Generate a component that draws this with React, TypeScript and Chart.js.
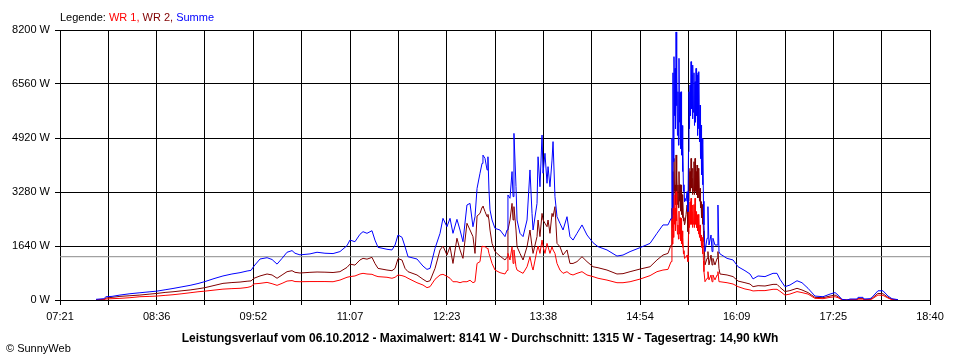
import { useEffect, useRef } from 'react';
import { Chart, registerables } from 'chart.js';

Chart.register(...registerables);

// time of each sample, minutes after midnight
const minutes = [
  469.1, 475.3, 476.9, 481.6, 487.8, 495.6, 503.4, 511.2, 516.7, 523.0,
  529.2, 536.2, 542.5, 548.7, 554.2, 561.2, 568.2, 575.2, 581.5, 587.0,
  590.1, 592.4, 597.1, 602.6, 606.5, 610.4, 614.3, 618.2, 622.1, 624.4,
  628.3, 636.1, 641.6, 647.8, 654.1, 659.5, 665.0, 667.3, 671.2, 675.1,
  677.5, 680.6, 684.5, 686.8, 689.2, 696.2, 700.1, 702.5, 704.8, 707.9,
  710.3, 712.6, 719.6, 724.3, 727.4, 729.8, 733.7, 737.6, 739.9, 743.0,
  745.4, 747.7, 750.8, 753.2, 755.5, 758.6, 761.0, 763.3, 764.9, 766.5,
  768.8, 770.4, 771.1, 772.7, 774.3, 775.0, 775.8, 776.6, 778.2, 780.5,
  784.4, 788.3, 789.9, 790.6, 792.2, 793.8, 794.6, 795.3, 796.9, 797.7,
  800.0, 802.4, 805.5, 807.8, 809.4, 810.2, 813.3, 814.1, 815.6, 817.2,
  818.0, 819.5, 821.1, 821.9, 823.4, 825.0, 825.8, 827.3, 828.9, 831.2,
  833.6, 836.7, 839.0, 841.4, 844.5, 848.4, 852.3, 857.0, 860.9, 867.9,
  875.7, 880.4, 885.9, 893.7, 901.5, 906.9, 911.6, 915.5, 917.9,
  944.4, 946.0,
  946.7, 947.5, 949.1, 949.9, 950.6, 952.2, 953.8, 954.5, 955.3, 956.1,
  961.6, 966.3, 970.2, 975.6, 979.5, 981.9, 985.8, 991.2, 997.5, 1000.6,
  1002.9, 1006.8, 1010.7, 1016.2, 1020.1, 1024.8, 1030.2, 1036.5, 1042.0, 1045.9,
  1048.2, 1051.3, 1055.2, 1057.6, 1063.0, 1063.8, 1067.7, 1068.5, 1073.2, 1074.7,
  1079.4, 1083.3, 1087.2, 1090.3, 1095.0,
];

const summe = [
  20, 40, 100, 110, 150, 190, 220, 250, 270, 310,
  350, 400, 445, 500, 560, 650, 730, 790, 830, 880,
  900, 1030, 1245, 1285, 1230, 1090, 1265, 1450, 1500, 1420,
  1370, 1400, 1450, 1420, 1410, 1470, 1650, 1820, 1770, 1995,
  2075, 2025, 2105, 1820, 1600, 1540, 1520, 1670, 1975, 1905,
  1620, 1315, 1245, 1030, 930, 960, 1570, 2025, 2480, 2225,
  2480, 2025, 2450, 2125, 1770, 2885, 2935, 2225, 2530, 3390,
  3850, 4150, 4400, 4300, 3950, 4350, 3340, 2735, 2430, 2175,
  2125, 1925, 2125, 3190, 3090, 3900, 3140, 5060, 3440, 2430,
  2025, 1925, 2430, 3950, 2630, 2125, 2935, 4350, 3440, 5010,
  3850, 4455, 3545, 4050, 3440, 4250, 4810, 3140, 2530, 2330,
  2125, 2530, 1925, 1820, 2025, 2280, 1975, 1740, 1620, 1520,
  1335, 1365, 1470, 1590, 1720, 2025, 2280, 2280, 2480,
  1470, 1875,
  2835, 1670, 1975, 1470, 1875, 1670, 1670, 2885, 1470, 1400,
  1265, 1215, 1010, 890, 790, 640, 730, 710, 810, 810,
  630, 405, 455, 585, 525, 355, 120, 100, 180, 225,
  150, 20, 0, 30, 30, 80, 80, 30, 40, 80,
  280, 280, 120, 40, 10,
];

const wr2 = [
  0, 20, 60, 80, 110, 130, 150, 180, 200, 230,
  250, 280, 305, 340, 375, 440, 505, 530, 545, 570,
  580, 660, 730, 790, 760, 660, 760, 860, 890, 840,
  820, 840, 850, 845, 835, 860, 990, 1090, 1060, 1215,
  1265, 1240, 1295, 1110, 960, 910, 890, 960, 1255, 1215,
  960, 860, 760, 630, 555, 585, 960, 1520, 1640, 1365,
  1620, 1110, 1875, 1520, 1265, 2330, 2125, 1925, 1415, 2550,
  2630, 2815, 2855, 2685, 2530, 2600, 2430, 2125, 1720, 1470,
  1335, 1215, 1300, 2125, 2430, 2935, 2430, 2835, 2125, 1620,
  1415, 1215, 1620, 2125, 1620, 1415, 1925, 2430, 1925, 2630,
  2430, 2330, 2225, 2430, 2025, 2630, 2530, 2835, 1720, 1620,
  1365, 1520, 1110, 1110, 1165, 1315, 1165, 1010, 980, 910,
  790, 800, 860, 940, 1010, 1215, 1365, 1415, 1670,
  1065, 1265,
  1470, 1065, 1365, 1065, 1265, 1065, 1265, 1470, 960, 790,
  760, 710, 575, 525, 485, 405, 435, 425, 475, 475,
  385, 255, 285, 355, 305, 225, 80, 70, 120, 150,
  100, 10, 0, 10, 10, 40, 40, 10, 20, 50,
  200, 190, 80, 20, 0,
];

const wr1 = [
  0, 10, 30, 40, 50, 70, 100, 110, 120, 140,
  160, 190, 220, 250, 270, 300, 330, 345, 355, 380,
  410, 490, 505, 535, 495, 445, 505, 575, 590, 560,
  555, 560, 560, 560, 555, 605, 690, 710, 730, 790,
  810, 790, 780, 740, 710, 690, 660, 690, 760, 740,
  710, 660, 525, 455, 375, 405, 630, 760, 780, 720,
  660, 555, 555, 525, 555, 555, 600, 525, 555, 1110,
  1165, 1640, 1620, 1620, 1570, 1560, 1415, 1315, 1110, 910,
  830, 790, 900, 1415, 1215, 1620, 1110, 1520, 1010, 910,
  860, 810, 1010, 1315, 1010, 910, 1515, 1640, 1415, 1820,
  1620, 1415, 1720, 1620, 1415, 1620, 1520, 1415, 1110, 910,
  810, 860, 790, 760, 810, 860, 760, 710, 660, 605,
  525, 525, 555, 635, 740, 860, 910, 930, 1165,
  555, 660,
  860, 610, 760, 555, 760, 610, 760, 860, 555, 555,
  525, 485, 405, 335, 305, 275, 285, 285, 325, 325,
  265, 150, 180, 255, 225, 180, 50, 40, 80, 100,
  70, 10, 0, 10, 10, 30, 30, 10, 10, 30,
  150, 140, 60, 10, 0,
];

// dense samples of the afternoon peak (15:18 - 15:44)
const peakMinutes = [
  918.6, 919.0, 919.4, 919.8, 920.2, 920.6, 921.0, 921.4, 921.8, 922.1,
  922.5, 922.9, 923.3, 923.7, 924.1, 924.5, 924.9, 925.3, 925.7, 926.1,
  926.5, 926.8, 927.2, 927.6, 928.0, 928.4, 928.8, 929.6, 930.4, 931.1,
  931.5, 931.9, 932.3, 932.7, 933.1, 933.5, 933.9, 934.3, 934.6, 935.0,
  935.4, 935.8, 936.2, 936.6, 937.0, 937.4, 937.8, 938.2, 938.6, 939.0,
  939.4, 939.7, 940.1, 940.5, 940.9, 941.3, 941.7, 942.1, 942.5, 942.8,
  943.2, 943.6,
];

const peakSumme = [
  4910, 2800, 6900, 4200, 7390, 5600, 7035, 5200, 8141, 5900,
  6835, 5000, 6325, 4700, 7340, 5400, 6300, 4600, 6325, 4400,
  5300, 3900, 4700, 3300, 3500, 2985, 3090, 3000, 3290, 2685,
  4500, 6325, 5200, 6530, 5600, 7240, 5800, 6835, 5500, 7135,
  5700, 6900, 5300, 6630, 5400, 7035, 5600, 6835, 5000, 6900,
  5200, 6935, 4800, 5920, 4300, 5315, 3800, 4900, 3500, 4710,
  3000, 2280,
];

const peakWr2 = [
  2785, 2200, 3900, 2600, 4300, 3300, 3495, 2900, 4405, 3300,
  3795, 2900, 3495, 2800, 3900, 3000, 3500, 2700, 3495, 2600,
  3200, 2500, 3000, 2400, 2500, 2280, 2330, 2600, 2885, 2075,
  3000, 4000, 3300, 3900, 3300, 4300, 3400, 3695, 3200, 4000,
  3300, 4200, 3200, 4300, 3300, 3900, 3200, 4100, 3100, 4000,
  3100, 3900, 3000, 3390, 2800, 2985, 2500, 2900, 2300, 2785,
  2100, 1770,
];

const peakWr1 = [
  2480, 1700, 2900, 1900, 3190, 2300, 2785, 2100, 3290, 2400,
  2685, 2000, 2280, 1850, 2700, 2000, 2500, 1800, 2480, 1700,
  2100, 1600, 1900, 1400, 1500, 1265, 1265, 1300, 1365, 1165,
  2000, 2685, 2200, 2985, 2300, 3090, 2300, 2685, 2200, 2885,
  2300, 2900, 2200, 3090, 2300, 2685, 2200, 2585, 2100, 2600,
  2000, 2480, 1900, 2280, 1800, 1975, 1600, 1900, 1400, 1875,
  1200, 860,
];

const averageW = 1315;
const xStart = 441; // 07:21
const xEnd = 1120; // 18:40
const xTickLabels = ['07:21', '08:36', '09:52', '11:07', '12:23', '13:38', '14:54', '16:09', '17:25', '18:40'];
const yMax = 8200;
const yStep = 1640;

const titleText = 'Leistungsverlauf vom 06.10.2012 - Maximalwert: 8141 W - Durchschnitt: 1315 W - Tagesertrag: 14,90 kWh';
const legendParts: [string, string][] = [
  ['Legende: ', '#000000'],
  ['WR 1, ', '#ff0000'],
  ['WR 2, ', '#800000'],
  ['Summe', '#0000ff'],
];

const FONT = '"Liberation Sans", Arial, sans-serif';

function merge(base: number[], peak: number[]) {
  const pts = base.map((v, i) => ({ x: minutes[i], y: v }));
  peak.forEach((v, i) => pts.push({ x: peakMinutes[i], y: v }));
  pts.sort((a, b) => a.x - b.x);
  return pts;
}

export default function App() {
  const ref = useRef<HTMLCanvasElement | null>(null);

  useEffect(() => {
    document.body.style.margin = '0';
    const canvas = ref.current;
    if (!canvas) return;

    const textPlugin = {
      id: 'texts',
      afterDraw(chart: any) {
        const ctx = chart.ctx as CanvasRenderingContext2D;
        ctx.save();
        ctx.textBaseline = 'alphabetic';
        ctx.textAlign = 'left';
        ctx.font = `11px ${FONT}`;
        let x = 60;
        for (const [t, c] of legendParts) {
          ctx.fillStyle = c;
          ctx.fillText(t, x, 21);
          x += ctx.measureText(t).width;
        }
        ctx.fillStyle = '#000';
        ctx.fillText('© SunnyWeb', 6, 352);
        ctx.font = `bold 12px ${FONT}`;
        ctx.textAlign = 'center';
        ctx.fillText(titleText, 480, 342);
        ctx.restore();
      },
    };

    const chart = new Chart(canvas, {
      type: 'line',
      data: {
        datasets: [
          {
            label: 'Summe',
            data: merge(summe, peakSumme),
            borderColor: '#0000ff',
            borderWidth: 1,
            pointRadius: 0,
            fill: false,
            order: 0,
          },
          {
            label: 'WR 1',
            data: merge(wr1, peakWr1),
            borderColor: '#ff0000',
            borderWidth: 1,
            pointRadius: 0,
            fill: false,
            order: 1,
          },
          {
            label: 'WR 2',
            data: merge(wr2, peakWr2),
            borderColor: '#800000',
            borderWidth: 1,
            pointRadius: 0,
            fill: false,
            order: 2,
          },
          {
            label: 'Durchschnitt',
            data: [
              { x: xStart, y: averageW },
              { x: xEnd, y: averageW },
            ],
            borderColor: '#8c8c8c',
            borderWidth: 1,
            pointRadius: 0,
            fill: false,
            order: 3,
          },
        ],
      },
      options: {
        animation: false,
        responsive: false,
        devicePixelRatio: 1,
        layout: { padding: { top: 30, right: 30, left: 0, bottom: 0 } },
        plugins: {
          legend: { display: false },
          title: { display: false },
          tooltip: { enabled: false },
        },
        elements: { line: { tension: 0 } },
        scales: {
          x: {
            type: 'linear',
            min: xStart,
            max: xEnd,
            afterBuildTicks: (scale: any) => {
              const n = (xTickLabels.length - 1) * 2;
              scale.ticks = Array.from({ length: n + 1 }, (_, i) => ({
                value: xStart + (i * (xEnd - xStart)) / n,
              }));
            },
            afterFit: (scale: any) => {
              scale.height = 60;
            },
            ticks: {
              autoSkip: false,
              maxRotation: 0,
              minRotation: 0,
              padding: 5,
              color: '#000',
              font: { family: FONT, size: 11 },
              callback: (_v: any, i: number) => (i % 2 === 0 ? xTickLabels[i / 2] : ''),
            },
            grid: { color: '#000', lineWidth: 1, tickLength: 5, drawTicks: true },
            border: { color: '#000', width: 1 },
          },
          y: {
            min: 0,
            max: yMax,
            afterFit: (scale: any) => {
              scale.width = 60;
            },
            ticks: {
              stepSize: yStep,
              padding: 5,
              color: '#000',
              font: { family: FONT, size: 11 },
              callback: (v: any) => `${v} W`,
            },
            grid: { color: '#000', lineWidth: 1, tickLength: 5, drawTicks: true },
            border: { color: '#000', width: 1 },
          },
        },
      },
      plugins: [textPlugin],
    });

    return () => chart.destroy();
  }, []);

  return (
    <div style={{ position: 'absolute', left: 0, top: 0, width: 960, height: 360, background: '#fff' }}>
      <canvas ref={ref} width={960} height={360} style={{ width: 960, height: 360, display: 'block' }} />
    </div>
  );
}
